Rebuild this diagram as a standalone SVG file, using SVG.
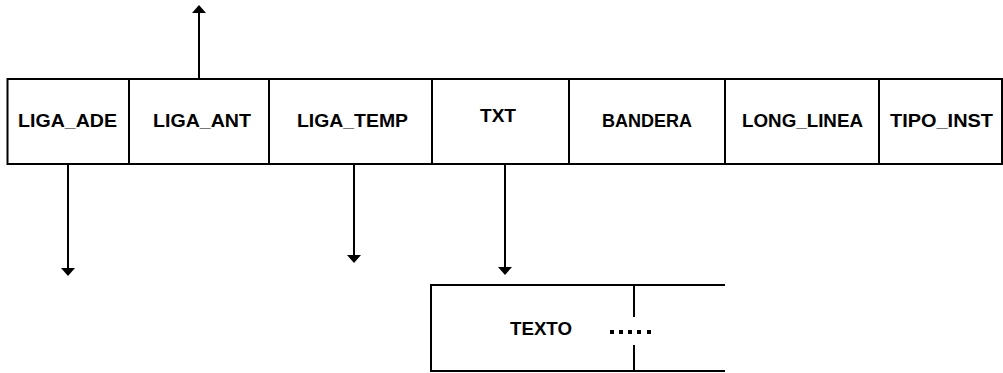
<svg xmlns="http://www.w3.org/2000/svg" width="1003" height="373" viewBox="0 0 1003 373">
<style>
.box{fill:#fff;stroke:#000;stroke-width:2}
.ln{fill:none;stroke:#000;stroke-width:2}
.lbl{font-family:"Liberation Sans","DejaVu Sans",sans-serif;font-weight:bold;font-size:19px;fill:#000}
.con{fill:none;stroke:#000;stroke-width:2}
</style>
<defs>
<marker id="ah" viewBox="0 0 8 14" refX="0" refY="7" markerWidth="8" markerHeight="14" markerUnits="userSpaceOnUse" orient="auto">
<path d="M0,0 L8,7 L0,14 z" fill="#000"/>
</marker>
</defs>
<rect width="1003" height="373" fill="#fff"/>
<g id="node-liga-ade">
<rect class="box" x="7.5" y="79" width="121.5" height="85"/>
<text class="lbl" x="18" y="126.5" textLength="99" lengthAdjust="spacingAndGlyphs">LIGA_ADE</text>
</g>
<g id="node-liga-ant">
<rect class="box" x="129" y="79" width="140" height="85"/>
<text class="lbl" x="153" y="126.5" textLength="98" lengthAdjust="spacingAndGlyphs">LIGA_ANT</text>
</g>
<g id="node-liga-temp">
<rect class="box" x="269" y="79" width="163" height="85"/>
<text class="lbl" x="297" y="126.5" textLength="111" lengthAdjust="spacingAndGlyphs">LIGA_TEMP</text>
</g>
<g id="node-txt">
<rect class="box" x="432" y="79" width="137" height="85"/>
<text class="lbl" x="480" y="122" textLength="36" lengthAdjust="spacingAndGlyphs">TXT</text>
</g>
<g id="node-bandera">
<rect class="box" x="569" y="79" width="156" height="85"/>
<text class="lbl" x="602" y="126.5" textLength="90" lengthAdjust="spacingAndGlyphs">BANDERA</text>
</g>
<g id="node-long-linea">
<rect class="box" x="725" y="79" width="154" height="85"/>
<text class="lbl" x="742" y="126.5" textLength="121" lengthAdjust="spacingAndGlyphs">LONG_LINEA</text>
</g>
<g id="node-tipo-inst">
<rect class="box" x="879" y="79" width="123" height="85"/>
<text class="lbl" x="890" y="126.5" textLength="103" lengthAdjust="spacingAndGlyphs">TIPO_INST</text>
</g>
<g id="node-texto">
<path class="ln" d="M725,285 H431 V371 H725"/>
<path class="ln" d="M634,285 V317 M634,345 V371"/>
<text class="lbl" x="510" y="335" textLength="62" lengthAdjust="spacingAndGlyphs">TEXTO</text>
<g fill="#000">
<rect x="610" y="330" width="4" height="4"/>
<rect x="619" y="330" width="4" height="4"/>
<rect x="628" y="330" width="4" height="4"/>
<rect x="637" y="330" width="4" height="4"/>
<rect x="647" y="330" width="4" height="4"/>
</g>
</g>
<g id="connectors">
<line class="con" x1="199" y1="79" x2="199" y2="13" marker-end="url(#ah)"/>
<line class="con" x1="68" y1="164" x2="68" y2="268" marker-end="url(#ah)"/>
<line class="con" x1="354" y1="164" x2="354" y2="255" marker-end="url(#ah)"/>
<line class="con" x1="505" y1="164" x2="505" y2="267" marker-end="url(#ah)"/>
</g>
</svg>
